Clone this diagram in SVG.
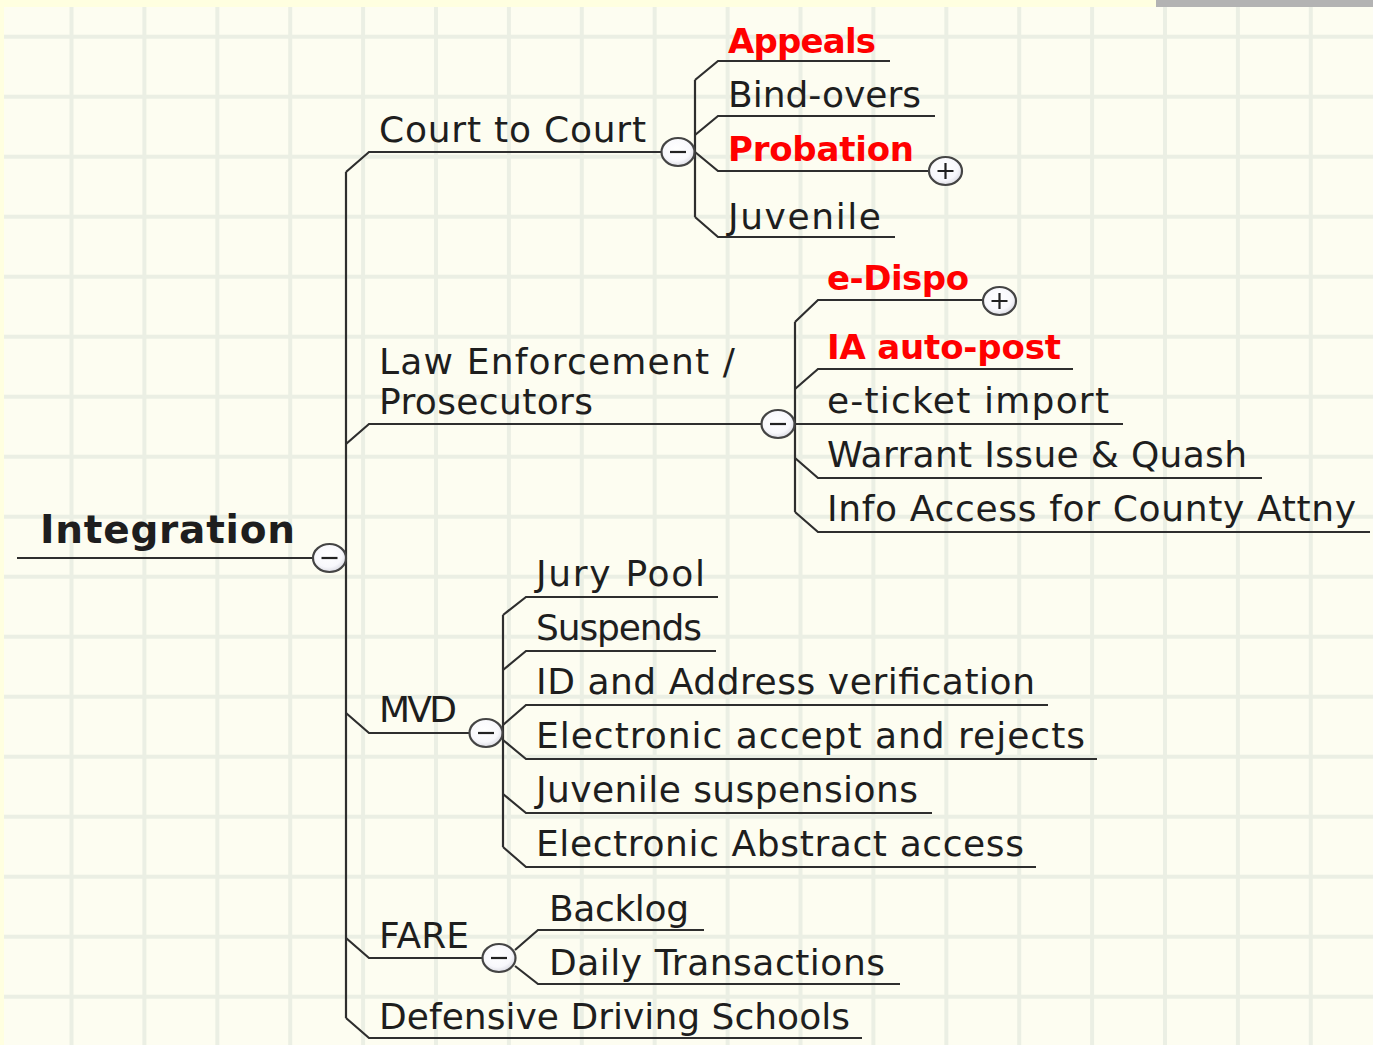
<svg xmlns="http://www.w3.org/2000/svg" width="1373" height="1045" viewBox="0 0 1373 1045">
<defs>
<style>
.grid line{stroke:#ebefe4;stroke-width:4}
.con path{stroke:#2e2e2e;stroke-width:2.2;fill:none}
.t{font-family:"DejaVu Sans","Liberation Sans",sans-serif;font-size:36px;fill:#1e1e1e}
.r{font-family:"DejaVu Sans","Liberation Sans",sans-serif;font-size:34px;font-weight:bold;fill:#ff0000}
.root{font-family:"DejaVu Sans","Liberation Sans",sans-serif;font-size:39px;font-weight:bold;fill:#1e1e1e}
.be{fill:url(#bg);stroke:#444;stroke-width:2.2}
.bs{stroke:#222;stroke-width:2.2;fill:none}
</style>
<radialGradient id="bg" cx="0.45" cy="0.4" r="0.6">
<stop offset="0" stop-color="#ffffff"/>
<stop offset="0.7" stop-color="#f8f8fc"/>
<stop offset="1" stop-color="#dcdce4"/>
</radialGradient>
<g id="minus"><ellipse class="be" cx="0" cy="0" rx="16.5" ry="14"/><path class="bs" d="M-8 0H8"/></g>
<g id="plus"><ellipse class="be" cx="0" cy="0" rx="16.5" ry="14"/><path class="bs" d="M-8 0H8M0 -8V8"/></g>
</defs>
<rect x="0" y="0" width="1373" height="1045" fill="#fdfdf1"/>
<rect x="0" y="0" width="1373" height="7" fill="#ffffe0"/>
<rect x="0" y="0" width="4" height="1045" fill="#ffffe0"/>
<rect x="1156" y="0" width="217" height="7" fill="#b3b3b3"/>
<g class="grid">
<line x1="71.5" y1="7" x2="71.5" y2="1045"/><line x1="144.4" y1="7" x2="144.4" y2="1045"/><line x1="217.3" y1="7" x2="217.3" y2="1045"/><line x1="290.2" y1="7" x2="290.2" y2="1045"/><line x1="363.1" y1="7" x2="363.1" y2="1045"/><line x1="436" y1="7" x2="436" y2="1045"/><line x1="508.9" y1="7" x2="508.9" y2="1045"/><line x1="581.8" y1="7" x2="581.8" y2="1045"/><line x1="654.7" y1="7" x2="654.7" y2="1045"/><line x1="727.6" y1="7" x2="727.6" y2="1045"/><line x1="800.5" y1="7" x2="800.5" y2="1045"/><line x1="873.4" y1="7" x2="873.4" y2="1045"/><line x1="946.3" y1="7" x2="946.3" y2="1045"/><line x1="1019.2" y1="7" x2="1019.2" y2="1045"/><line x1="1092.1" y1="7" x2="1092.1" y2="1045"/><line x1="1165" y1="7" x2="1165" y2="1045"/><line x1="1237.9" y1="7" x2="1237.9" y2="1045"/><line x1="1310.8" y1="7" x2="1310.8" y2="1045"/>
<line x1="4" y1="36.7" x2="1373" y2="36.7"/><line x1="4" y1="96.7" x2="1373" y2="96.7"/><line x1="4" y1="156.7" x2="1373" y2="156.7"/><line x1="4" y1="216.7" x2="1373" y2="216.7"/><line x1="4" y1="276.7" x2="1373" y2="276.7"/><line x1="4" y1="336.7" x2="1373" y2="336.7"/><line x1="4" y1="396.7" x2="1373" y2="396.7"/><line x1="4" y1="456.7" x2="1373" y2="456.7"/><line x1="4" y1="516.7" x2="1373" y2="516.7"/><line x1="4" y1="576.7" x2="1373" y2="576.7"/><line x1="4" y1="636.7" x2="1373" y2="636.7"/><line x1="4" y1="696.7" x2="1373" y2="696.7"/><line x1="4" y1="756.7" x2="1373" y2="756.7"/><line x1="4" y1="816.7" x2="1373" y2="816.7"/><line x1="4" y1="876.7" x2="1373" y2="876.7"/><line x1="4" y1="936.7" x2="1373" y2="936.7"/><line x1="4" y1="996.7" x2="1373" y2="996.7"/>
</g>
<g id="connectors" class="con">
<path d="M17 558H314"/>
<path d="M346 172V1018"/>
<path d="M346 172L369 152H662"/>
<path d="M346 444L369 424H762"/>
<path d="M346 713L369 733H470"/>
<path d="M346 938L369 958H483"/>
<path d="M346 1018L369 1038H862"/>
<path d="M695 80V217"/>
<path d="M695 80L718 61H890"/>
<path d="M695 135L718 116H935"/>
<path d="M695 152L718 171H929"/>
<path d="M695 217L718 237H895"/>
<path d="M795 322V512"/>
<path d="M795 322L818 300H983"/>
<path d="M795 389L818 369H1073"/>
<path d="M795 424H1123"/>
<path d="M795 458L818 478H1262"/>
<path d="M795 512L818 532H1370"/>
<path d="M503 615V847"/>
<path d="M503 615L526 597H718"/>
<path d="M503 670L526 651H716"/>
<path d="M503 725L526 705H1048"/>
<path d="M503 740L526 759H1097"/>
<path d="M503 794L526 813H932"/>
<path d="M503 847L526 867H1036"/>
<path d="M515 950L538 930H704"/>
<path d="M515 966L538 984H900"/>
</g>
<g id="n-root"><text class="root" x="40" y="543" textLength="255">Integration</text><use href="#minus" x="329.5" y="558"/></g>
<g id="n-court"><text class="t" x="379" y="142" textLength="267">Court to Court</text><use href="#minus" x="678" y="152"/></g>
<g id="n-appeals"><text class="r" x="728" y="53" textLength="148">Appeals</text></g>
<g id="n-bindovers"><text class="t" x="728" y="107" textLength="193">Bind-overs</text></g>
<g id="n-probation"><text class="r" x="728" y="161" textLength="186">Probation</text><use href="#plus" x="945.5" y="171"/></g>
<g id="n-juvenile"><text class="t" x="728" y="229" textLength="153">Juvenile</text></g>
<g id="n-law"><text class="t" x="379" y="374" textLength="356">Law Enforcement /</text><text class="t" x="379" y="414" textLength="214">Prosecutors</text><use href="#minus" x="778" y="424"/></g>
<g id="n-edispo"><text class="r" x="827" y="290" textLength="142">e-Dispo</text><use href="#plus" x="999.5" y="301"/></g>
<g id="n-ia"><text class="r" x="827" y="359" textLength="234">IA auto-post</text></g>
<g id="n-eticket"><text class="t" x="827" y="413" textLength="282">e-ticket import</text></g>
<g id="n-warrant"><text class="t" x="827" y="467" textLength="420">Warrant Issue &amp; Quash</text></g>
<g id="n-info"><text class="t" x="827" y="521" textLength="529">Info Access for County Attny</text></g>
<g id="n-mvd"><text class="t" x="379" y="722" textLength="78">MVD</text><use href="#minus" x="486" y="733"/></g>
<g id="n-jury"><text class="t" x="536" y="586" textLength="169">Jury Pool</text></g>
<g id="n-suspends"><text class="t" x="536" y="640" textLength="166">Suspends</text></g>
<g id="n-id"><text class="t" x="536" y="694" textLength="499">ID and Address verification</text></g>
<g id="n-elecaccept"><text class="t" x="536" y="748" textLength="549">Electronic accept and rejects</text></g>
<g id="n-juvsusp"><text class="t" x="536" y="802" textLength="382">Juvenile suspensions</text></g>
<g id="n-elecabstract"><text class="t" x="536" y="856" textLength="488">Electronic Abstract access</text></g>
<g id="n-fare"><text class="t" x="379" y="948" textLength="90">FARE</text><use href="#minus" x="499" y="958"/></g>
<g id="n-backlog"><text class="t" x="549" y="921" textLength="140">Backlog</text></g>
<g id="n-daily"><text class="t" x="549" y="975" textLength="336">Daily Transactions</text></g>
<g id="n-defensive"><text class="t" x="379" y="1029" textLength="471">Defensive Driving Schools</text></g>
</svg>
